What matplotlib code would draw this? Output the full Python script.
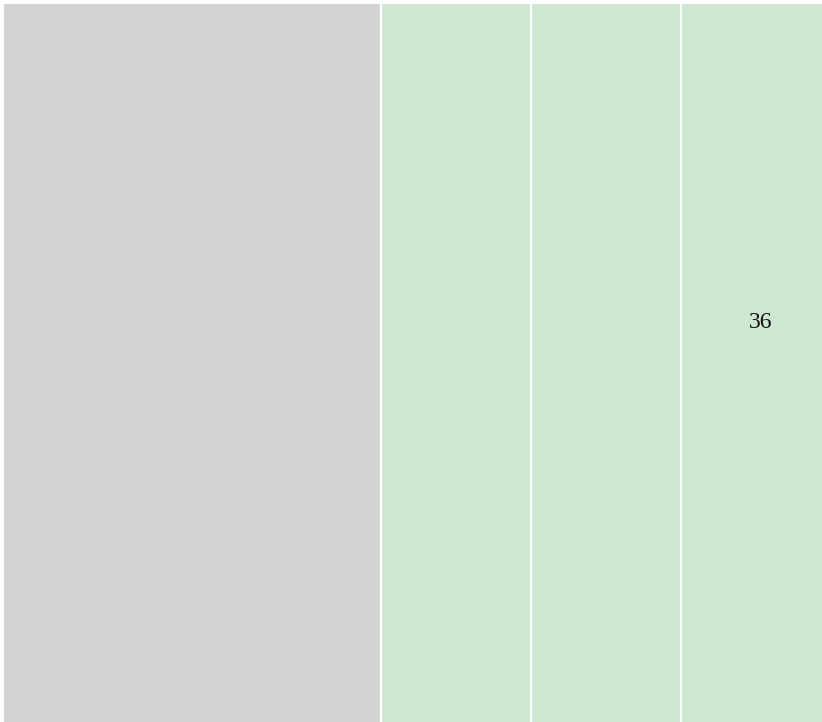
import matplotlib
matplotlib.use("Agg")
import matplotlib.pyplot as plt
import numpy as np

# cells of the (cropped) treemap strip
names = ["other", "a", "b", "c"]
sizes = [37.8, 15.0, 15.0, 16.0]
colors = ["#d3d3d3", "#cde7d1", "#cde7d1", "#cde7d1"]
labels = ["", "", "", "36"]

fig = plt.figure(figsize=(8.22, 7.22), dpi=100)
ax = fig.add_axes([3 / 822, 0, 1 - 3 / 822, 1 - 3 / 722])

lefts = np.concatenate([[0], np.cumsum(sizes)[:-1]])
# cells run past the bottom and right edges, like a cropped view
ax.bar(lefts, 1.2, bottom=-0.2, width=sizes, align="edge", color=colors,
       edgecolor="white", linewidth=1.5)

for l, w, lab in zip(lefts, sizes, labels):
    if lab:
        ax.text(l + w / 2, 0.555, lab, ha="center", va="center",
                fontsize=17, family="Liberation Serif", color="#111111")

ax.set_xlim(0, 81.9)
ax.set_ylim(0, 1)
ax.axis("off")

fig.savefig("out.png", dpi=100)
